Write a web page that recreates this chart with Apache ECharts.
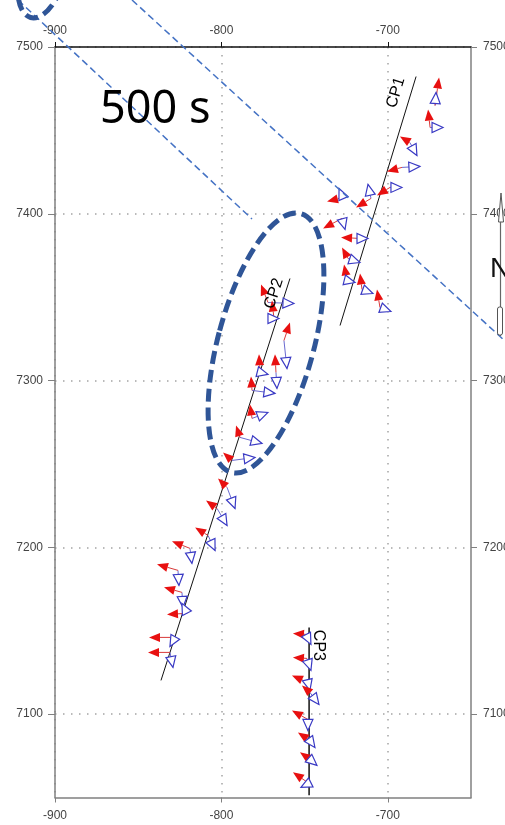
<!DOCTYPE html>
<html>
<head>
<meta charset="utf-8">
<script src="https://cdn.jsdelivr.net/npm/echarts@6/dist/echarts.min.js"></script>
<style>
  html, body { margin: 0; padding: 0; background: #fff; }
  #chart { width: 505px; height: 825px; }
</style>
</head>
<body>
<div id="chart"></div>
<script>
// Stations along each profile: [easting, northing, redDx, redDy, blueDx, blueDy]
const cp1 = [
  [-671.6, 7464.9,  2.4, 16.8,   0.6,   7.8],
  [-674.6, 7451.7, -1.2, 10.8,   7.8,   0.0],
  [-686.7, 7442.7, -6.0,  3.6,   4.2,  -7.8],
  [-691.5, 7427.8, -9.0, -2.4,  10.8,   0.6],
  [-698.7, 7415.8, -7.8, -4.8,   7.2,   0.0],
  [-710.1, 7409.2, -9.0, -5.4,  -1.8,   8.4],
  [-726.9, 7409.8, -9.6, -2.4,  -2.4,   5.4],
  [-727.5, 7397.2, -11.4, -6.0,  1.8,  -6.6],
  [-716.7, 7385.2, -11.4, 0.6,   4.8,   0.0],
  [-723.9, 7373.2, -3.6,  6.6,   7.2,  -2.4],
  [-724.5, 7360.0, -1.8,  9.6,   4.8,  -1.2],
  [-715.5, 7354.6, -1.2,  9.6,   6.6,  -2.4],
  [-704.7, 7343.8, -1.8, 10.8,   6.6,  -2.4]
];
const cp2 = [
  [-772.0, 7346.8, -4.2, 10.8,  15.6,  -0.6],
  [-768.4, 7337.2, -1.2, 10.8,   3.0,   0.0],
  [-762.4, 7324.0,  3.6, 10.8,   1.8, -16.8],
  [-776.8, 7304.9, -0.6, 10.8,   4.8,  -1.2],
  [-767.2, 7304.9, -0.6, 10.8,   0.6,  -9.6],
  [-781.6, 7294.1, -0.6,  8.4,  13.8,  -1.8],
  [-781.6, 7277.3, -1.2,  8.4,   9.6,   3.6],
  [-788.8, 7265.9, -2.4,  7.2,  13.2,  -3.6],
  [-793.6, 7252.1, -5.4,  4.8,  13.8,   1.8],
  [-796.6, 7235.9, -5.4,  5.4,   4.8, -12.6],
  [-802.6, 7223.3, -6.6,  4.8,   6.0, -10.2],
  [-808.0, 7207.1, -7.8,  4.8,   4.2,  -9.0],
  [-818.9, 7199.4, -10.8, 4.2,   1.2,  -9.0],
  [-826.1, 7186.2, -12.6, 3.6,   0.6,  -9.0],
  [-823.7, 7173.0, -10.8, 3.0,   0.6,  -9.0],
  [-820.7, 7160.4, -12.0, -0.6, -3.0,   6.0],
  [-827.9, 7146.0, -15.6, 0.0,  -3.0,  -5.4],
  [-830.9, 7137.0, -13.2, 0.0,   1.8,  -9.0]
];
const cp3 = [
  [-749.2, 7147.8, -7.8,  0.6,   3.0,  -6.0],
  [-748.6, 7133.4, -8.4,  0.6,   2.4,  -7.2],
  [-748.0, 7119.0, -9.6,  4.2,   1.2,  -4.8],
  [-746.8, 7113.0, -4.8,  4.2,   5.4,  -7.2],
  [-748.0, 7096.8, -9.6,  5.4,   0.0,  -6.6],
  [-746.8, 7084.2, -7.2,  4.8,   3.0,  -4.2],
  [-746.8, 7072.9, -6.0,  4.2,   4.2,  -3.6],
  [-747.4, 7058.5, -9.6,  6.6,  -4.8,  -2.4]
];

// Profile traces
const cp1Line = [[-728.7, 7333.0], [-683.0, 7482.3]];
const cp2Line = [[-836.3, 7120.2], [-758.8, 7361.2]];
const cp3Line = [[-747.3, 7152.0], [-747.3, 7051.3]];

// Profile names and where they are written
const profileNames = ['CP1', 'CP2', 'CP3'];
const profileNamePos = [[-695.1, 7472.7], [-768.4, 7352.2], [-741.9, 7141.2]];
const profileNameAngle = [73, 72, -90];

const xTicks = [-900, -800, -700];
const yTicks = [7100, 7200, 7300, 7400, 7500];

const RED = '#e81010';
const BLUE = '#3a3ac4';

function headPoints(tip, from, len, half) {
  let dx = tip[0] - from[0], dy = tip[1] - from[1];
  const d = Math.hypot(dx, dy) || 1;
  const ux = dx / d, uy = dy / d;
  const bx = tip[0] - ux * len, by = tip[1] - uy * len;
  return {
    pts: [[tip[0], tip[1]], [bx - uy * half, by + ux * half], [bx + uy * half, by - ux * half]],
    base: [bx, by]
  };
}

function renderArrows(params, api) {
  const x = api.value(0), y = api.value(1);
  const o = api.coord([x, y]);
  const r = api.coord([x + api.value(2), y + api.value(3)]);
  const b = api.coord([x + api.value(4), y + api.value(5)]);
  const rh = headPoints(r, o, 11, 4.5);
  const bh = headPoints(b, o, 11, 5);
  return {
    type: 'group',
    children: [
      { type: 'line', shape: { x1: o[0], y1: o[1], x2: b[0], y2: b[1] },
        style: { stroke: '#6a6ad0', lineWidth: 1 } },
      { type: 'line', shape: { x1: o[0], y1: o[1], x2: rh.base[0], y2: rh.base[1] },
        style: { stroke: '#d83a3a', lineWidth: 1 } },
      { type: 'polygon', shape: { points: rh.pts }, style: { fill: RED } },
      { type: 'polygon', shape: { points: bh.pts },
        style: { fill: '#fff', stroke: BLUE, lineWidth: 1.2 } }
    ]
  };
}

function arrowSeries(data) {
  return {
    type: 'custom', renderItem: renderArrows, data: data,
    encode: { x: 0, y: 1 }, clip: false, z: 5, silent: true
  };
}

function traceSeries(pts, w) {
  return {
    type: 'line', data: pts, symbol: 'none', silent: true, z: 3,
    lineStyle: { color: '#111', width: w }
  };
}

const labelFont = { color: '#444', fontSize: 12, fontFamily: 'Liberation Sans, Arial, sans-serif' };
const grey = '#808080';
const gridDots = { color: '#a4a4a4', width: 1.5, type: [1.5, 6.5] };

const chart = echarts.init(document.getElementById('chart'), null, { renderer: 'canvas' });
chart.setOption({
  animation: false,
  backgroundColor: '#fff',
  grid: { left: 55, top: 47, width: 416, height: 750.5, containLabel: false, outerBoundsMode: 'none' },
  xAxis: [
    { type: 'value', position: 'bottom', min: -900, max: -650, interval: 100,
      axisLine: { show: true, onZero: false, lineStyle: { color: grey, width: 1.5 } },
      axisTick: { show: true, customValues: xTicks, length: 5, lineStyle: { color: grey } },
      axisLabel: Object.assign({ customValues: xTicks, margin: 12, formatter: v => String(v) }, labelFont),
      splitLine: { show: true, lineStyle: gridDots } },
    { type: 'value', position: 'top', min: -900, max: -650, interval: 100,
      axisLine: { show: true, onZero: false, lineStyle: { color: '#111', width: 1.5 } },
      axisTick: { show: true, customValues: xTicks, length: 5, lineStyle: { color: '#111' } },
      axisLabel: Object.assign({ customValues: xTicks, margin: 10, formatter: v => String(v) }, labelFont),
      splitLine: { show: false } }
  ],
  yAxis: [
    { type: 'value', position: 'left', min: 7050, max: 7500,
      axisLine: { show: true, onZero: false, lineStyle: { color: grey, width: 1.5 } },
      axisTick: { show: true, customValues: yTicks, length: 7, lineStyle: { color: grey } },
      axisLabel: Object.assign({ customValues: yTicks, margin: 12, formatter: v => String(v) }, labelFont),
      splitLine: { show: true, lineStyle: gridDots } },
    { type: 'value', position: 'right', min: 7050, max: 7500,
      axisLine: { show: true, onZero: false, lineStyle: { color: grey, width: 1.5 } },
      axisTick: { show: true, customValues: yTicks, length: 6, lineStyle: { color: grey } },
      axisLabel: Object.assign({ customValues: yTicks, margin: 12, formatter: v => String(v) }, labelFont),
      splitLine: { show: false } }
  ],
  series: [
    traceSeries(cp1Line, 1),
    traceSeries(cp2Line, 1),
    traceSeries(cp3Line, 1.5),
    arrowSeries(cp1),
    arrowSeries(cp2),
    arrowSeries(cp3),
    {
      type: 'scatter', symbolSize: 0, silent: true, z: 6,
      data: profileNames.map((n, i) => ({
        value: profileNamePos[i],
        label: { show: true, position: 'inside', formatter: n, rotate: profileNameAngle[i],
          color: '#000', opacity: 1, fontSize: 16, fontFamily: 'Liberation Sans, Arial, sans-serif' }
      }))
    }
  ],
  graphic: [
    // guide lines toward the zoomed window
    { type: 'line', z: 100, shape: { x1: 18, y1: 0, x2: 252, y2: 219 },
      style: { stroke: '#4472c4', lineWidth: 1.5, lineDash: [7, 4] } },
    { type: 'line', z: 100, shape: { x1: 132, y1: 0, x2: 505, y2: 341 },
      style: { stroke: '#4472c4', lineWidth: 1.5, lineDash: [7, 4] } },
    // highlighted part of CP2
    { type: 'ellipse', z: 101, x: 266, y: 343, rotation: -15 * Math.PI / 180,
      shape: { cx: 0, cy: 0, rx: 48, ry: 134 },
      style: { fill: null, stroke: '#2f5597', lineWidth: 5, lineDash: [13, 6] } },
    { type: 'ellipse', z: 101, x: 42, y: -25, rotation: -15 * Math.PI / 180,
      shape: { cx: 0, cy: 0, rx: 22, ry: 44 },
      style: { fill: null, stroke: '#2f5597', lineWidth: 5, lineDash: [13, 6] } },
    // time stamp
    { type: 'text', z: 102, x: 100, y: 88,
      style: { text: '500 s', fill: '#000', fontSize: 45, fontFamily: 'Noto Sans, Open Sans, sans-serif' } },
    // north arrow
    { type: 'polygon', z: 102, shape: { points: [[501, 193], [498.5, 222], [503.5, 222]] },
      style: { fill: '#fff', stroke: '#555', lineWidth: 1 } },
    { type: 'line', z: 102, shape: { x1: 500.5, y1: 222, x2: 500.5, y2: 336 },
      style: { stroke: '#666', lineWidth: 1.2 } },
    { type: 'rect', z: 102, shape: { x: 497.5, y: 307, width: 5, height: 28, r: 2 },
      style: { fill: '#fff', stroke: '#555', lineWidth: 1 } },
    { type: 'text', z: 102, x: 490, y: 255,
      style: { text: 'N', fill: '#111', fontSize: 28, fontFamily: 'Liberation Sans, Arial, sans-serif' } }
  ]
});
</script>
</body>
</html>
